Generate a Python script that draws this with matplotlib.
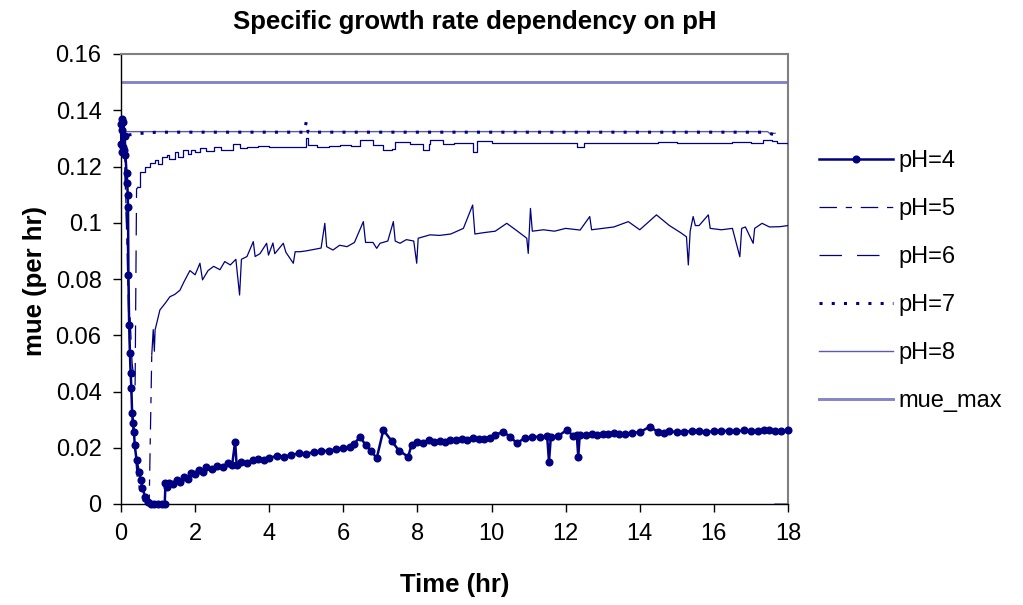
import matplotlib
matplotlib.use("Agg")
import matplotlib.pyplot as plt
import numpy as np

plt.rcParams['font.family'] = ['Liberation Sans', 'DejaVu Sans']

# ---- data ----
t_ph4 = [0, 0.01, 0.02, 0.03, 0.04, 0.05, 0.06, 0.08, 0.1, 0.12, 0.15, 0.17, 0.18,
         0.19, 0.2, 0.22, 0.24, 0.26, 0.28, 0.3, 0.33, 0.35, 0.37, 0.42, 0.48, 0.53,
         0.58, 0.65, 0.74, 0.8, 0.9, 1.0, 1.1, 1.18, 1.2, 1.25, 1.3, 1.4, 1.5, 1.6,
         1.7, 1.8, 1.9, 2.0, 2.1, 2.2, 2.3, 2.45, 2.6, 2.75, 2.9, 3.0, 3.08, 3.12,
         3.25, 3.4, 3.55, 3.7, 3.85, 4.0, 4.2, 4.4, 4.6, 4.8, 5.0, 5.2, 5.4, 5.6,
         5.8, 6.0, 6.18, 6.3, 6.45, 6.6, 6.75, 6.9, 7.08, 7.3, 7.5, 7.75, 7.84, 8.0,
         8.15, 8.3, 8.45, 8.6, 8.75, 8.88, 9.05, 9.2, 9.35, 9.5, 9.65, 9.8, 9.95,
         10.1, 10.3, 10.5, 10.68, 10.9, 11.1, 11.3, 11.5, 11.55, 11.6, 11.8, 12.03,
         12.2, 12.3, 12.34, 12.38, 12.55, 12.7, 12.85, 13.0, 13.15, 13.3, 13.45, 13.6,
         13.8, 14.0, 14.27, 14.5, 14.65, 14.8, 15.0, 15.2, 15.4, 15.6, 15.8, 16.0,
         16.2, 16.4, 16.6, 16.8, 17.0, 17.2, 17.35, 17.5, 17.65, 17.8, 18.0]
mue_ph4 = [0.135, 0.128, 0.137, 0.125, 0.133, 0.127, 0.136, 0.126, 0.131, 0.124,
           0.1176, 0.114, 0.110, 0.1057, 0.0814, 0.0636, 0.0538, 0.0467, 0.0411,
           0.0322, 0.0287, 0.0257, 0.021, 0.0156, 0.0115, 0.0085, 0.0056, 0.0026,
           0.0008, 0, 0, 0, 0, 0, 0.0074, 0.006, 0.0075, 0.007, 0.0085, 0.008,
           0.0095, 0.009, 0.011, 0.0105, 0.012, 0.0115, 0.013, 0.0125, 0.0135, 0.013,
           0.0145, 0.014, 0.0222, 0.014, 0.015, 0.0145, 0.0155, 0.016, 0.0155,
           0.0165, 0.017, 0.0168, 0.0175, 0.018, 0.0178, 0.0185, 0.019, 0.0188,
           0.0195, 0.020, 0.0204, 0.0215, 0.0239, 0.021, 0.019, 0.0162, 0.0263,
           0.0225, 0.019, 0.0168, 0.021, 0.0222, 0.0218, 0.0228, 0.0222, 0.0225,
           0.022, 0.0228, 0.0226, 0.023, 0.0228, 0.0235, 0.023, 0.0232, 0.0236,
           0.0245, 0.0257, 0.024, 0.0216, 0.0235, 0.0238, 0.024, 0.0242, 0.015,
           0.0239, 0.0242, 0.0263, 0.0243, 0.0245, 0.0168, 0.0245, 0.0246, 0.025,
           0.0247, 0.0248, 0.025, 0.0252, 0.0249, 0.025, 0.0254, 0.0255, 0.0275,
           0.0255, 0.0252, 0.0258, 0.0256, 0.0257, 0.0259, 0.026, 0.0257, 0.0258,
           0.026, 0.026, 0.0258, 0.0262, 0.0259, 0.026, 0.0262, 0.0263, 0.026,
           0.026, 0.0262]

t_ph5 = [0, 0.1, 0.2, 0.3, 0.45, 0.6, 0.76, 0.83, 0.87, 0.9, 0.92, 1.05, 1.2,
         1.32, 1.45, 1.59, 1.7, 1.86, 2.0, 2.13, 2.2, 2.35, 2.5, 2.67, 2.8, 2.95,
         3.1, 3.2, 3.25, 3.4, 3.57, 3.62, 3.75, 3.93, 3.98, 4.1, 4.15, 4.38, 4.45,
         4.65, 4.7, 4.83, 5.0, 5.2, 5.4, 5.5, 5.55, 5.72, 5.9, 6.1, 6.3, 6.54, 6.6,
         6.8, 6.9, 6.99, 7.2, 7.35, 7.4, 7.53, 7.7, 7.9, 7.98, 8.02, 8.34, 8.6, 8.9,
         9.24, 9.49, 9.55, 9.8, 10.1, 10.41, 10.7, 10.95, 10.99, 11.05, 11.1, 11.4,
         11.7, 12.0, 12.39, 12.65, 12.7, 13.0, 13.3, 13.69, 14.0, 14.45, 14.8, 15.1,
         15.26, 15.31, 15.36, 15.44, 15.5, 15.6, 15.85, 15.9, 16.2, 16.5, 16.7,
         16.75, 16.85, 17.06, 17.1, 17.3, 17.5, 17.78, 18.0]
mue_ph5 = [0.133, 0.125, 0.07, 0.03, 0.008, 0.001, 0, 0.053, 0.062, 0.0543, 0.0619,
           0.069, 0.0715, 0.0737, 0.0745, 0.076, 0.079, 0.083, 0.0815, 0.0856,
           0.0797, 0.083, 0.0845, 0.0833, 0.0862, 0.085, 0.087, 0.0743, 0.087,
           0.088, 0.0933, 0.088, 0.089, 0.0927, 0.0885, 0.0928, 0.089, 0.0927,
           0.0895, 0.0856, 0.0897, 0.0897, 0.090, 0.0905, 0.091, 0.0998, 0.0915,
           0.0903, 0.092, 0.0915, 0.093, 0.1004, 0.093, 0.093, 0.0909, 0.0927,
           0.0935, 0.1004, 0.0935, 0.0927, 0.094, 0.0935, 0.0856, 0.0945, 0.0957,
           0.0955, 0.096, 0.098, 0.1063, 0.096, 0.0965, 0.097, 0.0998, 0.097,
           0.0945, 0.0891, 0.1051, 0.097, 0.0975, 0.097, 0.098, 0.0974, 0.1022,
           0.0975, 0.098, 0.0985, 0.1004, 0.0975, 0.1028, 0.099, 0.0965, 0.095,
           0.085, 0.097, 0.1022, 0.099, 0.099, 0.1028, 0.098, 0.0975, 0.098, 0.0879,
           0.098, 0.0985, 0.0927, 0.098, 0.0998, 0.0985, 0.0986, 0.099]

t_ph6 = [0, 0.1, 0.2, 0.3, 0.38, 0.42, 0.47, 0.5, 0.66, 0.78, 0.93, 1.0, 1.1, 1.23,
         1.3, 1.45, 1.55, 1.68, 1.8, 1.9, 2.0, 2.13, 2.3, 2.5, 2.7, 3.03, 3.2, 3.4,
         3.7, 4.0, 4.3, 4.6, 4.83, 4.99, 5.05, 5.3, 5.6, 5.9, 6.2, 6.45, 6.8, 7.08,
         7.3, 7.4, 7.53, 7.8, 8.16, 8.3, 8.34, 8.7, 9.0, 9.5, 9.6, 10.0, 10.5, 11.0,
         11.5, 12.0, 12.3, 12.5, 13.0, 13.5, 14.0, 14.5, 15.0, 15.5, 16.0, 16.5,
         17.0, 17.33, 17.57, 17.7, 18.0]
mue_ph6 = [0.133, 0.12, 0.08, 0.05, 0.041, 0.112, 0.1128, 0.118, 0.120, 0.1211,
           0.1223, 0.121, 0.1235, 0.1241, 0.1225, 0.125, 0.1235, 0.1259, 0.1245,
           0.126, 0.125, 0.1265, 0.1255, 0.127, 0.126, 0.128, 0.1265, 0.127, 0.1272,
           0.1268, 0.127, 0.1268, 0.127, 0.130, 0.1276, 0.127, 0.1272, 0.1275,
           0.1272, 0.1294, 0.1278, 0.1259, 0.1262, 0.1288, 0.1288, 0.128, 0.1259,
           0.128, 0.1294, 0.128, 0.1285, 0.1253, 0.129, 0.1282, 0.1285, 0.1282,
           0.1285, 0.1283, 0.127, 0.1283, 0.1285, 0.1282, 0.1283, 0.1286, 0.1282,
           0.1285, 0.1283, 0.1286, 0.1284, 0.1294, 0.129, 0.1282, 0.128]

t_ph7 = [0.2, 0.4, 0.7, 1.0, 4.95, 5.0, 5.05, 17.3, 17.5, 17.7]
mue_ph7 = [0.1312, 0.1316, 0.132, 0.1322, 0.1322, 0.136, 0.1322, 0.1322, 0.1318, 0.131]

t_ph8 = [0, 17.45, 17.5, 17.65, 17.65, 17.65, 18.0]
mue_ph8 = [0.1324, 0.1324, 0.1318, 0.1318, np.nan, 0, 0]

t_max = [0, 18]
mue_max = [0.15, 0.15]

x_ticks = [0, 2, 4, 6, 8, 10, 12, 14, 16, 18]
y_ticks = [0, 0.02, 0.04, 0.06, 0.08, 0.1, 0.12, 0.14, 0.16]
y_tick_labels = ['0', '0.02', '0.04', '0.06', '0.08', '0.1', '0.12', '0.14', '0.16']

navy = '#000080'

fig = plt.figure(figsize=(10.23, 6.05), dpi=100)
ax = fig.add_axes([121 / 1023, 1 - 504 / 605, 667 / 1023, 450 / 605])

ax.plot(t_max, mue_max, color='#8484c8', lw=2.1, label='mue_max', zorder=1)
ax.plot(t_ph8, mue_ph8, color='#5a5ab4', lw=1.0, label='pH=8', zorder=2)

# Excel shows the dash pattern only on the long steep segments; the dense noisy
# part of each curve reads as a continuous thin line
ax.plot(t_ph6[:7], mue_ph6[:7], color=navy, lw=0.9, dashes=(18, 12), label='pH=6', zorder=3)
ax.plot(t_ph6[6:], mue_ph6[6:], color=navy, lw=0.9, drawstyle='steps-post', zorder=3)
ax.plot(t_ph5[:8], mue_ph5[:8], color=navy, lw=0.9, dashes=(14, 7, 5, 7), label='pH=5', zorder=3)
ax.plot(t_ph5[7:], mue_ph5[7:], color=navy, lw=0.9, zorder=3)

ax.plot(t_ph7, mue_ph7, color=navy, lw=2.2, linestyle=(0, (1, 3)),
        dash_capstyle='butt', label='pH=7', zorder=4)
ax.plot(t_ph4, mue_ph4, color=navy, lw=1.8, marker='o', markersize=4.8,
        label='pH=4', zorder=5, clip_on=False)

ax.set_xlim(0, 18)
ax.set_ylim(0, 0.16)
ax.set_xticks(x_ticks)
ax.set_yticks(y_ticks)
ax.set_yticklabels(y_tick_labels)
ax.tick_params(axis='both', labelsize=17, length=6, width=1, direction='out', pad=8)

for side in ['top', 'right']:
    ax.spines[side].set_color('#808080')
    ax.spines[side].set_linewidth(1.5)
for side in ['left', 'bottom']:
    ax.spines[side].set_color('black')
    ax.spines[side].set_linewidth(1.0)

fig.text(455 / 1023, 1 - 585 / 605, 'Time (hr)', ha='center', va='center',
         fontsize=18.5, fontweight='bold')
fig.text(35 / 1023, 1 - 281 / 605, 'mue (per hr)', ha='center', va='center',
         rotation=90, fontsize=18.5, fontweight='bold')
fig.text(475 / 1023, 1 - 22 / 605, 'Specific growth rate dependency on pH',
         ha='center', va='center', fontsize=18.5, fontweight='bold')

handles, labels = ax.get_legend_handles_labels()
order = ['pH=4', 'pH=5', 'pH=6', 'pH=7', 'pH=8', 'mue_max']
hmap = dict(zip(labels, handles))
ax.legend([hmap[k] for k in order], order, loc='upper left',
          bbox_to_anchor=(810 / 1023, 1 - 141 / 605), bbox_transform=fig.transFigure,
          frameon=False, fontsize=17, handlelength=3.1, handletextpad=0.25,
          labelspacing=1.1, numpoints=1, borderaxespad=0)

fig.savefig('out.png', dpi=100)
